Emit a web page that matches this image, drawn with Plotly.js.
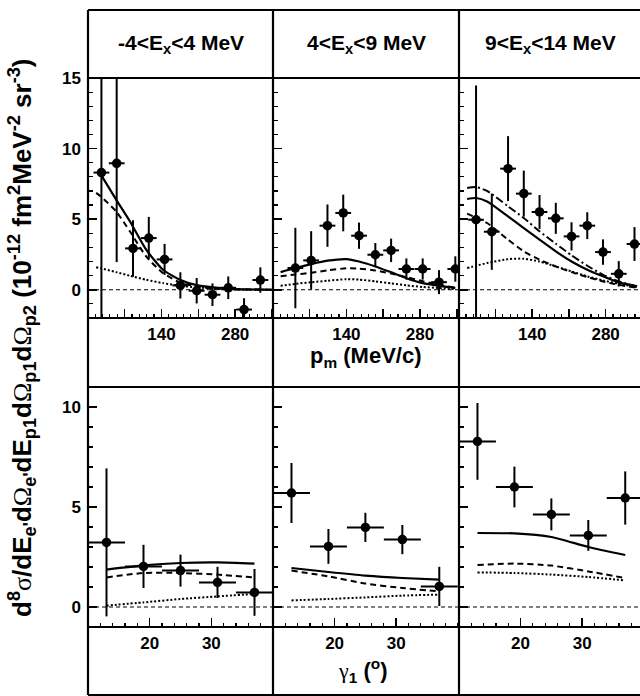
<!DOCTYPE html>
<html>
<head>
<meta charset="utf-8">
<script src="https://cdn.plot.ly/plotly-3.0.1.min.js"></script>
<style>html,body{margin:0;padding:0;background:#fff;}#chart{width:640px;height:696px;}</style>
</head>
<body>
<div id="chart"></div>
<script>
// ---------- DATA ----------
const panelLabels = ["-4&lt;E<sub>x</sub>&lt;4 MeV", "4&lt;E<sub>x</sub>&lt;9 MeV", "9&lt;E<sub>x</sub>&lt;14 MeV"];
const pmHalfBin = 15;
const gammaHalfBin = 3;

// Top row: missing momentum p_m (MeV/c)
const pm1 = [26, 55, 86, 116, 146, 176, 207, 237, 267, 297, 328];
const y1  = [8.3, 8.96, 2.93, 3.66, 2.15, 0.31, -0.07, -0.35, 0.14, -1.4, 0.69];
const ey1 = [12, 7.0, 2.0, 1.5, 1.1, 0.93, 0.9, 0.8, 0.8, 0.8, 0.9];

const pm2 = [43, 73, 104, 134, 164, 195, 225, 254, 285, 316, 347];
const y2  = [1.54, 2.08, 4.54, 5.44, 3.83, 2.48, 2.79, 1.47, 1.47, 0.54, 1.47];
const ey2 = [2.85, 2.07, 1.5, 1.3, 0.93, 0.83, 0.83, 0.75, 0.75, 0.85, 0.9];

const pm3 = [33, 63, 94, 124, 154, 185, 215, 245, 275, 305, 335];
const y3  = [4.96, 4.11, 8.58, 6.81, 5.51, 5.06, 3.78, 4.54, 2.67, 1.13, 3.24];
const ey3 = [9.5, 2.7, 2.3, 1.63, 1.2, 1.1, 1.0, 0.95, 0.9, 0.9, 1.2];

// Calculations (top row)
const cp1  = [16, 25, 54, 80, 111, 143, 175, 207, 238, 270, 300, 350];
const sol1 = [null, 8.16, 6.38, 4.85, 2.84, 1.42, 0.71, 0.33, 0.17, 0.07, 0.03, 0.0];
const dsh1 = [6.86, 6.6, 5.55, 4.14, 2.36, 1.18, 0.52, 0.24, 0.1, 0.05, 0.02, 0.0];
const dot1 = [1.6, 1.52, 1.25, 0.99, 0.71, 0.47, 0.28, 0.17, 0.07, 0.03, 0.01, 0.0];

const cp2  = [15, 43, 73, 104, 140, 164, 195, 225, 254, 285, 316, 347];
const sol2 = [1.25, 1.54, 1.82, 2.06, 2.17, 2.0, 1.65, 1.23, 0.82, 0.47, 0.28, 0.14];
const dsh2 = [0.95, 1.08, 1.2, 1.37, 1.52, 1.5, 1.37, 1.15, 0.9, 0.6, 0.35, 0.14];
const dot2 = [0.28, 0.42, 0.53, 0.64, 0.75, 0.72, 0.59, 0.45, 0.31, 0.2, 0.12, 0.05];

const cp3  = [16, 33, 54, 94, 124, 154, 185, 215, 245, 275, 305, 340];
const sol3 = [6.43, 6.5, 6.26, 5.2, 4.37, 3.55, 2.72, 2.0, 1.42, 0.95, 0.52, 0.24];
const dd3  = [7.21, 7.28, 7.0, 5.91, 5.08, 4.14, 3.26, 2.44, 1.7, 1.06, 0.59, 0.24];
const dsh3 = [5.39, 5.1, 4.73, 3.55, 2.72, 2.13, 1.65, 1.25, 0.9, 0.59, 0.35, 0.14];
const dot3 = [1.54, 1.7, 1.89, 2.17, 2.2, 2.0, 1.65, 1.3, 0.95, 0.66, 0.43, 0.17];

// Bottom row: angle gamma_1 (deg)
const gam = [13, 19, 25, 31, 37];
const b1  = [3.23, 2.03, 1.82, 1.23, 0.73];
const eb1 = [3.7, 1.08, 0.8, 0.78, 1.17];
const b2  = [5.7, 3.03, 3.98, 3.37, 1.03];
const eb2 = [1.5, 0.87, 0.73, 0.73, 0.98];
const b3  = [8.28, 6.0, 4.63, 3.58, 5.45];
const eb3 = [1.92, 1.02, 0.8, 0.77, 1.33];

const bs1 = [1.87, 2.08, 2.2, 2.23, 2.17];
const bd1 = [1.48, 1.7, 1.7, 1.62, 1.48];
const bt1 = [0.07, 0.23, 0.4, 0.53, 0.65];
const bs2 = [1.95, 1.75, 1.57, 1.45, 1.37];
const bd2 = [1.82, 1.53, 1.17, 0.95, 0.78];
const bt2 = [0.33, 0.4, 0.48, 0.57, 0.62];
const bs3 = [3.7, 3.68, 3.5, 3.0, 2.6];
const bd3 = [2.1, 2.17, 2.07, 1.78, 1.45];
const bt3 = [1.73, 1.7, 1.62, 1.5, 1.33];

// ticks
const pmDtick = 70, pmMinor = 14;
const gTickVals = [20, 30];
const yTopTicks = [0, 5, 10, 15];
const yBotTicks = [0, 5, 10];

// ---------- GEOMETRY (pixels) ----------
const W = 640, H = 696;
const colX = [[88, 273], [273, 459], [459, 640]];
const rowTop = [78, 318], rowBot = [387, 627];
const px = v => v / W, py = v => 1 - v / H;

const FONT = "Liberation Sans, Arial, Helvetica, sans-serif";
const tickFont = {family: FONT, size: 17, color: "#000", weight: "bold"};

function dataTrace(x, y, ey, xe, ax) {
  return {x: x, y: y, type: "scatter", mode: "markers", xaxis: "x" + ax, yaxis: "y" + ax,
    marker: {color: "#000", size: 9.5, symbol: "circle"},
    error_y: {type: "data", array: ey, visible: true, color: "#000", thickness: 2, width: 0},
    error_x: {type: "constant", value: xe, visible: true, color: "#000", thickness: 2, width: 0},
    hoverinfo: "skip"};
}
function curve(x, y, ax, dash, w) {
  return {x: x, y: y, type: "scatter", mode: "lines", xaxis: "x" + ax, yaxis: "y" + ax,
    line: {color: "#000", width: w, dash: dash, shape: "spline", smoothing: 0.6},
    connectgaps: false, hoverinfo: "skip"};
}
const DASH = "6px,4px", DOT = "2px,2px";

const traces = [
  curve(cp1, dot1, "", DOT, 2), curve(cp1, dsh1, "", DASH, 2), curve(cp1, sol1, "", "solid", 2.2),
  dataTrace(pm1, y1, ey1, pmHalfBin, ""),
  curve(cp2, dot2, "2", DOT, 2), curve(cp2, dsh2, "2", DASH, 2), curve(cp2, sol2, "2", "solid", 2.2),
  dataTrace(pm2, y2, ey2, pmHalfBin, "2"),
  curve(cp3, dot3, "3", DOT, 2), curve(cp3, dsh3, "3", DASH, 2), curve(cp3, dd3, "3", "8px,3px,2px,3px", 2),
  curve(cp3, sol3, "3", "solid", 2.2),
  dataTrace(pm3, y3, ey3, pmHalfBin, "3"),
  curve(gam, bt1, "4", DOT, 2), curve(gam, bd1, "4", DASH, 2), curve(gam, bs1, "4", "solid", 2.2),
  dataTrace(gam, b1, eb1, gammaHalfBin, "4"),
  curve(gam, bt2, "5", DOT, 2), curve(gam, bd2, "5", DASH, 2), curve(gam, bs2, "5", "solid", 2.2),
  dataTrace(gam, b2, eb2, gammaHalfBin, "5"),
  curve(gam, bt3, "6", DOT, 2), curve(gam, bd3, "6", DASH, 2), curve(gam, bs3, "6", "solid", 2.2),
  dataTrace(gam, b3, eb3, gammaHalfBin, "6")
];

function xAxis(col, top, range) {
  const a = {domain: [px(colX[col][0]), px(colX[col][1])], range: range,
    anchor: "y" + (top ? (col === 0 ? "" : col + 1) : col + 4),
    showgrid: false, zeroline: false, showline: false, ticks: "inside", tickcolor: "#000",
    ticklen: 9, tickwidth: 1.5, tickfont: tickFont, ticklabelstandoff: 4, fixedrange: true};
  if (top) {
    a.tickmode = "linear"; a.tick0 = 0; a.dtick = pmDtick; a.ticklabelstep = 2;
    a.minor = {tickmode: "linear", tick0: 0, dtick: pmMinor, ticks: "inside", ticklen: 4.5, tickwidth: 1.2, tickcolor: "#000"};
  } else {
    a.tickmode = "array"; a.tickvals = gTickVals; a.ticktext = gTickVals.map(String);
    a.minor = {tickmode: "linear", tick0: 0, dtick: 2, ticks: "inside", ticklen: 4.5, tickwidth: 1.2, tickcolor: "#000"};
  }
  return a;
}
function yAxis(col, top) {
  const rows = top ? rowTop : rowBot;
  const tv = top ? yTopTicks : yBotTicks;
  return {domain: [py(rows[1]), py(rows[0])], range: top ? [-2, 15] : [-1, 11],
    anchor: "x" + (top ? (col === 0 ? "" : col + 1) : col + 4),
    showgrid: false, zeroline: false, showline: false, ticks: "inside", tickcolor: "#000",
    ticklen: 9, tickwidth: 1.5, tickfont: tickFont, ticklabelstandoff: 6, fixedrange: true,
    tickmode: "array", tickvals: tv, ticktext: tv.map(String),
    showticklabels: col === 0,
    minor: {tickmode: "linear", tick0: 0, dtick: 1, ticks: "inside", ticklen: 5, tickwidth: 1.2, tickcolor: "#000"}};
}

const layout = {
  width: W, height: H, margin: {l: 0, r: 0, t: 0, b: 0},
  paper_bgcolor: "#fff", plot_bgcolor: "#fff", showlegend: false,
  font: {family: FONT, color: "#000"},
  xaxis: xAxis(0, true, [0.5, 352]), xaxis2: xAxis(1, true, [0.5, 354]), xaxis3: xAxis(2, true, [0.5, 345.5]),
  xaxis4: xAxis(0, false, [10, 40]), xaxis5: xAxis(1, false, [10, 40.2]), xaxis6: xAxis(2, false, [10, 39.4]),
  yaxis: yAxis(0, true), yaxis2: yAxis(1, true), yaxis3: yAxis(2, true),
  yaxis4: yAxis(0, false), yaxis5: yAxis(1, false), yaxis6: yAxis(2, false),
  shapes: [], annotations: []
};

// zero reference lines
["", "2", "3", "4", "5", "6"].forEach(s => {
  layout.shapes.push({type: "line", xref: "x" + s + " domain", yref: "y" + s, x0: 0, x1: 1, y0: 0, y1: 0,
    line: {color: "#000", width: 1, dash: "4px,3px"}, layer: "below"});
});
// frame grid
const LW = 2.2;
[10, 78, 318, 387, 627, 695].forEach(yy => {
  layout.shapes.push({type: "line", xref: "paper", yref: "paper", x0: px(88), x1: 1, y0: py(yy), y1: py(yy), line: {color: "#000", width: LW}});
});
[88, 273, 459].forEach(xx => {
  layout.shapes.push({type: "line", xref: "paper", yref: "paper", x0: px(xx), x1: px(xx), y0: py(10), y1: py(695), line: {color: "#000", width: LW}});
});

// header labels
const headX = [180.5, 366, 550];
panelLabels.forEach((t, i) => {
  layout.annotations.push({xref: "paper", yref: "paper", x: px(headX[i]), y: py(44), text: "<b>" + t + "</b>",
    showarrow: false, xanchor: "center", yanchor: "middle", font: {family: FONT, size: 21, color: "#000"}});
});
// axis titles
layout.annotations.push({xref: "paper", yref: "paper", x: px(366), y: py(357), text: "<b>p<sub>m</sub> (MeV/c)</b>",
  showarrow: false, xanchor: "center", yanchor: "middle", font: {family: FONT, size: 22, color: "#000"}});
layout.annotations.push({xref: "paper", yref: "paper", x: px(362), y: py(670),
  text: "<span style=\"font-family:'Liberation Serif';font-weight:normal\">γ</span><b><sub>1</sub> (<sup>o</sup>)</b>",
  showarrow: false, xanchor: "center", yanchor: "middle", font: {family: FONT, size: 22, color: "#000"}});
const G = s => "<span style=\"font-family:'Liberation Serif';font-weight:normal\">" + s + "</span>";
const yTitle = "<b>d<sup>8</sup></b>" + G("σ") + "<b>/dE<sub>e'</sub>d</b>" + G("Ω") + "<b><sub>e'</sub>dE<sub>p1</sub>d</b>" + G("Ω") +
  "<b><sub>p1</sub>d</b>" + G("Ω") + "<b><sub>p2</sub> (10<sup>-12</sup> fm<sup>2</sup>MeV<sup>-2</sup> sr<sup>-3</sup>)</b>";
layout.annotations.push({xref: "paper", yref: "paper", x: px(22), y: py(338), text: yTitle, textangle: -90,
  showarrow: false, xanchor: "center", yanchor: "middle", font: {family: FONT, size: 26, color: "#000"}});

Plotly.newPlot("chart", traces, layout, {staticPlot: true, displayModeBar: false});
</script>
</body>
</html>
